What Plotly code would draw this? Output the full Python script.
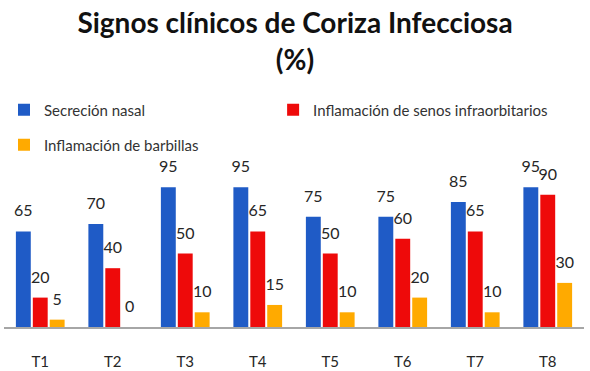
import plotly.graph_objects as go

categories = ["T1", "T2", "T3", "T4", "T5", "T6", "T7", "T8"]
secrecion = [65, 70, 95, 95, 75, 75, 85, 95]
senos = [20, 40, 50, 65, 50, 60, 65, 90]
barbillas = [5, 0, 10, 15, 10, 20, 10, 30]

series = [
    ("Secreción nasal", secrecion, "#1F5BC6", "legend"),
    ("Inflamación de senos infraorbitarios", senos, "#EE0A0A", "legend3"),
    ("Inflamación de barbillas", barbillas, "#FFAA00", "legend2"),
]

FONT = "Lato"
fig = go.Figure()
for i, (name, vals, col, lg) in enumerate(series):
    fig.add_trace(go.Bar(
        x=categories, y=vals, name=name, marker_color=col,
        marker_line_width=0, offsetgroup=str(i), alignmentgroup="a",
        cliponaxis=False, legend=lg, hoverinfo="skip",
    ))
for i, (name, vals, col, lg) in enumerate(series):
    fig.add_trace(go.Scatter(
        x=categories, y=vals, mode="markers+text",
        marker=dict(size=16, color="rgba(0,0,0,0)"),
        text=[str(v) for v in vals], textposition="top center",
        textfont=dict(family=FONT, size=16, color="#262626"),
        offsetgroup=str(i), alignmentgroup="a",
        showlegend=False, cliponaxis=False, hoverinfo="skip",
    ))

fig.update_layout(
    width=590, height=371,
    margin=dict(l=4, r=6, t=180, b=44, autoexpand=False),
    paper_bgcolor="white", plot_bgcolor="white",
    barmode="group", bargap=0.3, bargroupgap=0.12,
    scattermode="group", scattergap=0.3,
    title=dict(
        text="<b>Signos clínicos de Coriza Infecciosa<br>(%)</b>",
        x=0.5, xanchor="center", yref="container", y=0.91, yanchor="middle",
        font=dict(family=FONT, size=28, color="#111111"),
    ),
    legend=dict(
        orientation="h", x=0.0, xanchor="left", y=1.476, yanchor="middle",
        font=dict(family=FONT, size=15, color="#333333"),
        itemwidth=30, bgcolor="rgba(0,0,0,0)",
    ),
    legend3=dict(
        orientation="h", x=0.464, xanchor="left", y=1.476, yanchor="middle",
        font=dict(family=FONT, size=15, color="#333333"),
        itemwidth=30, bgcolor="rgba(0,0,0,0)",
    ),
    legend2=dict(
        orientation="h", x=0.0, xanchor="left", y=1.238, yanchor="middle",
        font=dict(family=FONT, size=15, color="#333333"),
        itemwidth=30, bgcolor="rgba(0,0,0,0)",
    ),
    showlegend=True,
    hovermode=False,
)
fig.update_xaxes(
    showline=True, linecolor="#A6A6A6", linewidth=1.5,
    ticks="", ticklabelstandoff=20,
    tickfont=dict(family=FONT, size=15, color="#262626"),
    showgrid=False,
)
fig.update_yaxes(range=[0, 100], visible=False, showgrid=False)

fig.write_html("out.html", config={"displayModeBar": False},
               post_script="document.body.style.margin='0';")
